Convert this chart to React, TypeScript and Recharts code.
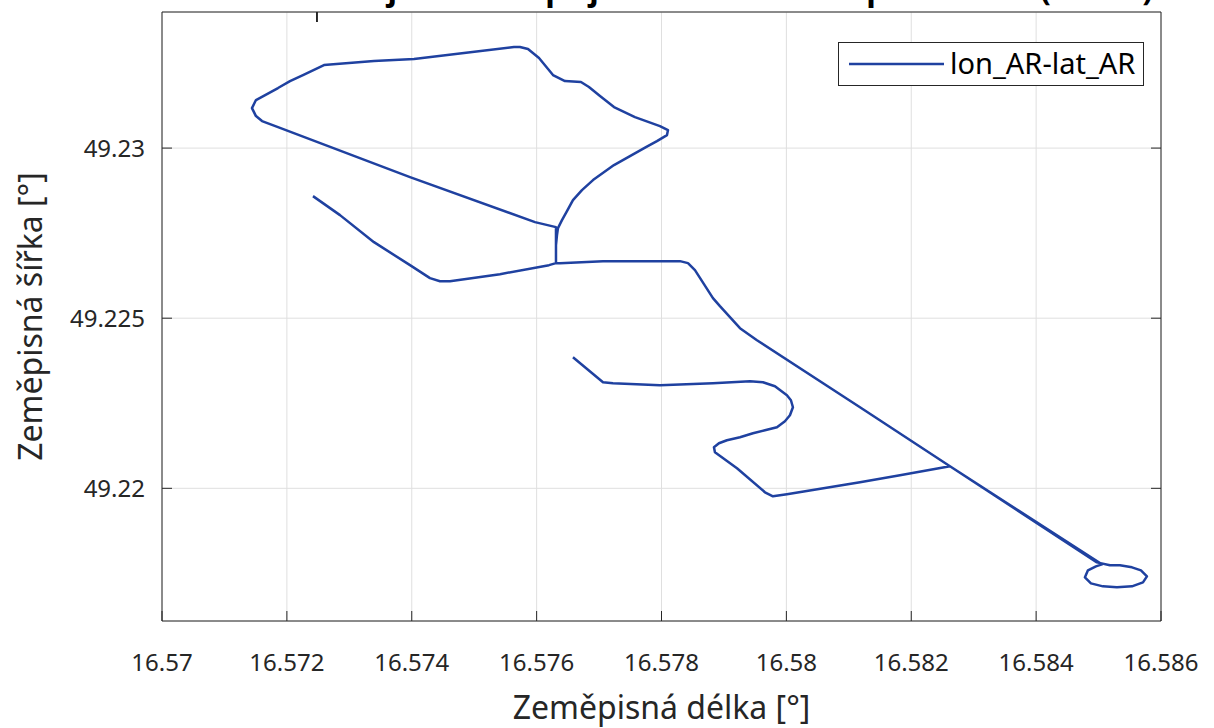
import React from 'react'
import { LineChart, Line, XAxis, YAxis, CartesianGrid } from 'recharts'

// trajektorie (zeměpisná délka / šířka)
const lon = [
  16.572418, 16.572851, 16.573395, 16.573972, 16.574292, 16.574452, 16.574612, 16.575413, 16.576198, 16.57631,
  16.57631, 16.576326, 16.576342, 16.576406, 16.576486, 16.576582, 16.576726, 16.576903, 16.577239, 16.577495,
  16.577751, 16.577927, 16.578088, 16.578104, 16.577975, 16.577575, 16.577239, 16.577015, 16.576838, 16.57671,
  16.576454, 16.576262, 16.576038, 16.575862, 16.575733, 16.575637, 16.574837, 16.574036, 16.573395, 16.572594,
  16.572258, 16.57205, 16.571858, 16.571505, 16.571441, 16.571505, 16.571602, 16.571858, 16.573972, 16.575974,
  16.57631, 16.57631, 16.57631, 16.576374, 16.577063, 16.578296, 16.578424, 16.578536, 16.57868, 16.578824,
  16.578936, 16.579257, 16.579529, 16.581179, 16.58262, 16.584974, 16.585182, 16.585342, 16.585535, 16.585679,
  16.585775, 16.585711, 16.585535, 16.585294, 16.58507, 16.584878, 16.584782, 16.58483, 16.584958, 16.585054,
  16.58262, 16.581819, 16.581179, 16.580009, 16.579785, 16.579657, 16.579209, 16.578856, 16.57884, 16.57892,
  16.579048, 16.579257, 16.579465, 16.579657, 16.579849, 16.579977, 16.580057, 16.580105, 16.580073, 16.580009,
  16.579817, 16.579625, 16.579417, 16.578824, 16.577975, 16.577223, 16.577063, 16.576582,
]
const lat = [
  49.228588, 49.22803, 49.227235, 49.226559, 49.226177, 49.226088, 49.226088, 49.226294, 49.226559, 49.226618,
  49.227147, 49.227441, 49.227647, 49.227882, 49.228147, 49.228471, 49.228765, 49.229059, 49.2295, 49.229765,
  49.230029, 49.230206, 49.230382, 49.230529, 49.230647, 49.230912, 49.231206, 49.231529, 49.231794, 49.231941,
  49.23197, 49.232147, 49.232647, 49.232912, 49.23297, 49.23297, 49.232794, 49.232618, 49.232559, 49.232441,
  49.232147, 49.23197, 49.231765, 49.231412, 49.231176, 49.230941, 49.230794, 49.230618, 49.229147, 49.227824,
  49.227677, 49.227147, 49.226618, 49.226618, 49.226677, 49.226677, 49.226618, 49.226412, 49.226, 49.225589,
  49.225353, 49.224706, 49.224353, 49.222383, 49.220648, 49.217824, 49.217736, 49.217736, 49.217677, 49.217589,
  49.217413, 49.217236, 49.217118, 49.217089, 49.217118, 49.217207, 49.217383, 49.217589, 49.217707, 49.217765,
  49.220648, 49.220383, 49.220177, 49.219824, 49.219765, 49.219883, 49.220589, 49.221059, 49.221206, 49.221324,
  49.221412, 49.2215, 49.221618, 49.221706, 49.221795, 49.221971, 49.222148, 49.222383, 49.222589, 49.222736,
  49.223, 49.223118, 49.223148, 49.223089, 49.22303, 49.223089, 49.223118, 49.223853,
]

const xTicks = [16.57, 16.572, 16.574, 16.576, 16.578, 16.58, 16.582, 16.584, 16.586]
const xTickLabels = ['16.57', '16.572', '16.574', '16.576', '16.578', '16.58', '16.582', '16.584', '16.586']
const yTicks = [49.22, 49.225, 49.23]
const yTickLabels = ['49.22', '49.225', '49.23']

const data = lon.map((x, i) => ({ lon: x, lat: lat[i] }))

const FONT = '"Noto Sans", sans-serif'
const INK = '#262626'
const BLUE = '#1f41a0'

const BottomTick = (props: any) => {
  const { x, y, index } = props
  return (
    <g>
      <line x1={x} y1={y} x2={x} y2={y - 10} stroke={INK} />
      <text x={x} y={y + 50} textAnchor="middle" fontFamily={FONT} fontSize={24} fill={INK}>
        {xTickLabels[index]}
      </text>
    </g>
  )
}

const TopTick = (props: any) => {
  const { x, y } = props
  return <line x1={x} y1={y} x2={x} y2={y + 10} stroke={INK} />
}

const LeftTick = (props: any) => {
  const { x, y, index } = props
  return (
    <g>
      <line x1={x} y1={y} x2={x + 10} y2={y} stroke={INK} />
      <text x={x - 17} y={y + 9} textAnchor="end" fontFamily={FONT} fontSize={24} fill={INK}>
        {yTickLabels[index]}
      </text>
    </g>
  )
}

const RightTick = (props: any) => {
  const { x, y } = props
  return <line x1={x} y1={y} x2={x - 10} y2={y} stroke={INK} />
}

export default function App() {
  return (
    <div style={{ position: 'absolute', left: 0, top: 0, width: 1214, height: 728, background: '#fff', overflow: 'hidden' }}>
      <div
        style={{
          position: 'absolute', left: 0, width: 1214, top: -30, textAlign: 'center', paddingLeft: 110, boxSizing: 'border-box',
          fontFamily: FONT, fontWeight: 'bold', fontSize: 32, color: '#000', lineHeight: '36px', whiteSpace: 'nowrap',
        }}
      >
        Porovnání trajektorie z přijímače GNSS a z aplikace AR (detail)
      </div>
      <LineChart width={1214} height={728} data={data} margin={{ top: 11, right: 52, left: 0, bottom: 0 }}>
        <CartesianGrid stroke="#dfdfdf" strokeWidth={1} />
        <XAxis
          dataKey="lon"
          type="number"
          domain={[16.57, 16.586]}
          ticks={xTicks}
          interval={0}
          allowDataOverflow
          height={107}
          tickSize={0}
          tickMargin={0}
          tickLine={false}
          tick={<BottomTick />}
          axisLine={{ stroke: INK }}
          label={{ value: 'Zeměpisná délka [°]', position: 'insideBottom', offset: 9, fill: INK, fontSize: 32, fontFamily: FONT }}
        />
        <XAxis
          xAxisId="top"
          orientation="top"
          type="number"
          domain={[16.57, 16.586]}
          ticks={xTicks}
          interval={0}
          allowDataOverflow
          height={1}
          tickSize={0}
          tickMargin={0}
          tickLine={false}
          tick={<TopTick />}
          axisLine={{ stroke: INK }}
        />
        <YAxis
          dataKey="lat"
          type="number"
          domain={[49.2161, 49.234]}
          ticks={yTicks}
          interval={0}
          allowDataOverflow
          width={162}
          tickSize={0}
          tickMargin={0}
          tickLine={false}
          tick={<LeftTick />}
          axisLine={{ stroke: INK }}
          label={{
            value: 'Zeměpisná šířka [°]', angle: -90, position: 'insideLeft', offset: 31,
            fill: INK, fontSize: 32, fontFamily: FONT, style: { textAnchor: 'middle' },
          }}
        />
        <YAxis
          yAxisId="right"
          orientation="right"
          type="number"
          domain={[49.2161, 49.234]}
          ticks={yTicks}
          interval={0}
          allowDataOverflow
          width={1}
          tickSize={0}
          tickMargin={0}
          tickLine={false}
          tick={<RightTick />}
          axisLine={{ stroke: INK }}
        />
        <Line
          dataKey="lat"
          type="linear"
          stroke={BLUE}
          strokeWidth={2.5}
          strokeLinejoin="round"
          dot={false}
          activeDot={false}
          isAnimationActive={false}
        />
      </LineChart>
      <div
        style={{
          position: 'absolute', left: 838, top: 42, width: 306, height: 44, boxSizing: 'border-box',
          border: `1px solid ${INK}`, background: '#fff', fontFamily: FONT, fontSize: 29, color: '#000',
        }}
      >
        <svg width={110} height={42} style={{ position: 'absolute', left: 0, top: 0 }}>
          <line x1={10} y1={21} x2={105} y2={21} stroke={BLUE} strokeWidth={2.5} />
        </svg>
        <span style={{ position: 'absolute', left: 111, top: 0, lineHeight: '40px', whiteSpace: 'nowrap' }}>lon_AR-lat_AR</span>
      </div>
    </div>
  )
}
